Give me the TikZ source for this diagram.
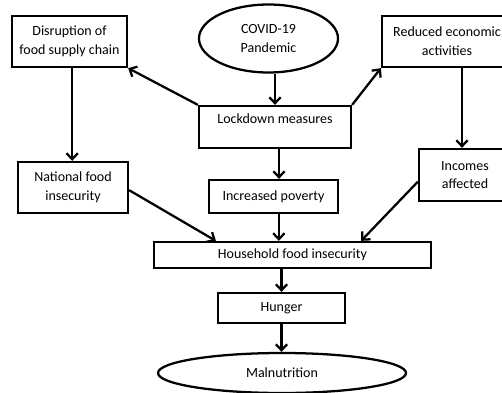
\documentclass[tikz,border=0pt]{standalone}
\usepackage{fontspec}
\setmainfont{Carlito}
\usetikzlibrary{positioning,shapes.geometric,calc,arrows.meta}
\tikzset{
  box/.style  = {shape=rectangle, draw, align=center, line width=1.7pt,
                 inner sep=1pt, font=\fontsize{10.5}{14}\selectfont},
  oval/.style = {box, shape=ellipse},
  link/.style = {-{Straight Barb[length=4.5pt,width=8.5pt]}, line width=1.7pt}
}

\begin{document}
\begin{tikzpicture}[x=0.75pt,y=-0.75pt]
\useasboundingbox (0,0) rectangle (502,392);
% top row
\node [box, minimum width=86.25pt, minimum height=38.25pt] (disrupt) at (69.5,41.5) {Disruption of\\food supply chain};
\node [oval, minimum width=104.25pt, minimum height=51pt] (covid) at (268.5,38.5) {COVID-19\\Pandemic};
\node [box, minimum width=97.5pt, minimum height=38.25pt] (reduced) at (447,41.5) {Reduced economic\\activities};
\node [box, minimum width=114pt, minimum height=31.5pt, text depth=12pt] (lockdown) at (275,127) {Lockdown measures};
% middle row
\node [box, minimum width=82.5pt, minimum height=38.25pt] (national) at (73,187.5) {National food\\insecurity};
\node [box, minimum width=96.75pt, minimum height=24.75pt] (poverty) at (273.5,196.5) {Increased poverty};
\node [box, minimum width=69pt, minimum height=39pt] (incomes) at (465,175) {Incomes\\affected};
% bottom
\node [box, minimum width=207.75pt, minimum height=19.5pt] (household) at (292.5,255) {Household food insecurity};
\node [box, minimum width=95.25pt, minimum height=22.5pt] (hunger) at (281.5,308) {Hunger};
\node [oval, minimum width=186pt, minimum height=30pt] (malnut) at (282,373) {Malnutrition};

\draw [link] (lockdown.north |- covid.south) -- (lockdown.north);
\draw [link] (lockdown.north west) -- (disrupt.south east);
\draw [link] (lockdown.north east) -- (reduced.south west);
\draw [link] ([xshift=3pt]lockdown.south) -- ([xshift=3pt]lockdown.south |- poverty.north);
\draw [link] ([xshift=2pt]disrupt.south) -- ([xshift=2pt]disrupt.south |- national.north);
\draw [link] ([xshift=-2.25pt]incomes.north |- reduced.south) -- ([xshift=-2.25pt]incomes.north);
\draw [link] ([yshift=-2pt]national.east) -- ([xshift=47.25pt]household.north west);
\draw [link] ([xshift=4pt]poverty.south) -- ([xshift=4pt]poverty.south |- household.north);
\draw [link] ([yshift=-5pt]incomes.west) -- ([xshift=-53.25pt]household.north east);
\draw [link] (hunger.north |- household.south) -- (hunger.north);
\draw [link] (hunger.south) -- (hunger.south |- malnut.north);
\end{tikzpicture}
\end{document}
